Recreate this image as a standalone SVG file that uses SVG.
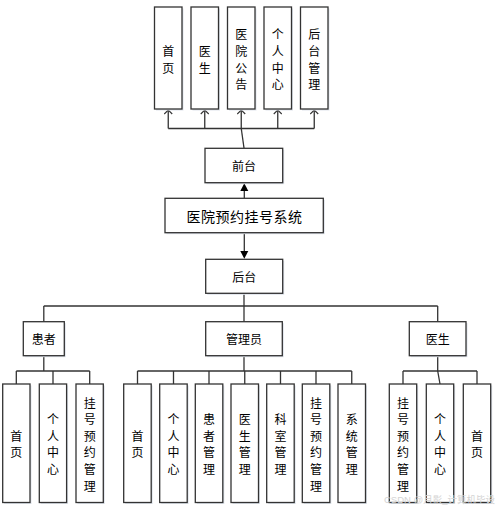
<svg xmlns="http://www.w3.org/2000/svg" width="500" height="511" viewBox="0 0 500 511">
<defs>
<style>
.bx{fill:#fff;stroke:#333;stroke-width:1.3}
.sh{fill:#dfe4ec}
.ln{fill:none;stroke:#333;stroke-width:1.3}
.t{font-family:"Noto Sans CJK SC","Noto Sans",sans-serif;font-size:12px;fill:#000;text-anchor:middle;dominant-baseline:central}
.tl{font-size:14px;letter-spacing:0.5px}
.wm{font-family:"Liberation Sans","Noto Sans CJK SC",sans-serif;font-size:9.5px;fill:#d4d4d4;text-anchor:end}
</style>
</defs>
<rect width="500" height="511" fill="#fff"/>

<g id="connectors">
<path class="ln" d="M244,148 L241.25,128.5"/>
<path class="ln" d="M168.25,128.5 L314.25,128.5"/>
<path class="ln" d="M168.25,128.5 V110"/>
<path class="ln" d="M204.75,128.5 V110"/>
<path class="ln" d="M241.25,128.5 V110"/>
<path class="ln" d="M277.75,128.5 V110"/>
<path class="ln" d="M314.25,128.5 V110"/>
<path d="M164.25,114 L168.25,110 L172.25,114 M200.75,114 L204.75,110 L208.75,114 M237.25,114 L241.25,110 L245.25,114 M273.75,114 L277.75,110 L281.75,114 M310.25,114 L314.25,110 L318.25,114" fill="none" stroke="#333" stroke-width="1.1"/>
<path class="ln" d="M244.3,198.3 V190"/>
<path d="M240.3,191 L244.3,183.2 L248.3,191 Z" fill="#000"/>
<path class="ln" d="M244.3,232.7 V251"/>
<path d="M240.3,251 L244.3,258.8 L248.3,251 Z" fill="#000"/>
<path class="ln" d="M244,293.3 V306"/>
<path class="ln" d="M43.8,306 H437.7"/>
<path class="ln" d="M43.8,306 V321.7"/>
<path class="ln" d="M244,306 V321.7"/>
<path class="ln" d="M437.7,306 V321.7"/>
<path class="ln" d="M43.8,355.7 V371"/>
<path class="ln" d="M16.3,371 H89.7"/>
<path class="ln" d="M16.3,371 V384 M53,371 V384 M89.7,371 V384"/>
<path class="ln" d="M244,355.7 V371"/>
<path class="ln" d="M137.5,371 H351.75"/>
<path class="ln" d="M137.5,371 V384 M173.5,371 V384 M209,371 V384 M244.75,371 V384 M280.5,371 V384 M316,371 V384 M351.75,371 V384"/>
<path class="ln" d="M437.7,355.7 V371"/>
<path class="ln" d="M403,371 H477"/>
<path class="ln" d="M403,371 V384 M437.7,371 L440,384 M477,371 V384"/>
</g>

<g id="f-home"><rect class="sh" x="156" y="8.5" width="27.5" height="102"/><rect class="bx" x="154.5" y="7" width="27.5" height="102"/><text class="t" x="168.25" y="50">首</text><text class="t" x="168.25" y="67">页</text></g>
<g id="f-doctor"><rect class="sh" x="192.5" y="8.5" width="27.5" height="102"/><rect class="bx" x="191" y="7" width="27.5" height="102"/><text class="t" x="204.75" y="50">医</text><text class="t" x="204.75" y="67">生</text></g>
<g id="f-notice"><rect class="sh" x="229" y="8.5" width="27.5" height="102"/><rect class="bx" x="227.5" y="7" width="27.5" height="102"/><text class="t" x="241.25" y="33">医</text><text class="t" x="241.25" y="50">院</text><text class="t" x="241.25" y="67">公</text><text class="t" x="241.25" y="83.5">告</text></g>
<g id="f-user"><rect class="sh" x="265.5" y="8.5" width="27.5" height="102"/><rect class="bx" x="264" y="7" width="27.5" height="102"/><text class="t" x="277.75" y="33">个</text><text class="t" x="277.75" y="50">人</text><text class="t" x="277.75" y="67">中</text><text class="t" x="277.75" y="83.5">心</text></g>
<g id="f-admin"><rect class="sh" x="302" y="8.5" width="27.5" height="102"/><rect class="bx" x="300.5" y="7" width="27.5" height="102"/><text class="t" x="314.25" y="33">后</text><text class="t" x="314.25" y="50">台</text><text class="t" x="314.25" y="67">管</text><text class="t" x="314.25" y="83.5">理</text></g>

<g id="frontend"><rect class="sh" x="206.5" y="149.8" width="77.7" height="34.4"/><rect class="bx" x="205" y="148.3" width="77.7" height="34.4"/><text class="t" x="244" y="165.5">前台</text></g>
<g id="system"><rect class="sh" x="166.5" y="199.8" width="158.3" height="34.4"/><rect class="bx" x="165" y="198.3" width="158.3" height="34.4"/><text class="t tl" x="244.5" y="215.5">医院预约挂号系统</text></g>
<g id="backend"><rect class="sh" x="207.2" y="260.8" width="77" height="34"/><rect class="bx" x="205.7" y="259.3" width="77" height="34"/><text class="t" x="244.2" y="276.3">后台</text></g>

<g id="patient"><rect class="sh" x="24.8" y="323.2" width="41" height="34"/><rect class="bx" x="23.3" y="321.7" width="41" height="34"/><text class="t" x="43.8" y="338.7">患者</text></g>
<g id="admin"><rect class="sh" x="207.2" y="323.2" width="76.6" height="34"/><rect class="bx" x="205.7" y="321.7" width="76.6" height="34"/><text class="t" x="244" y="338.7">管理员</text></g>
<g id="doctor"><rect class="sh" x="410.8" y="323.2" width="56.7" height="34"/><rect class="bx" x="409.3" y="321.7" width="56.7" height="34"/><text class="t" x="437.7" y="338.7">医生</text></g>

<g id="p-home"><rect class="sh" x="4.2" y="385.5" width="27.3" height="118.5"/><rect class="bx" x="2.7" y="384" width="27.3" height="118.5"/><text class="t" x="16.3" y="435">首</text><text class="t" x="16.3" y="451.5">页</text></g>
<g id="p-user"><rect class="sh" x="40.8" y="385.5" width="27.3" height="118.5"/><rect class="bx" x="39.3" y="384" width="27.3" height="118.5"/><text class="t" x="53" y="418">个</text><text class="t" x="53" y="435">人</text><text class="t" x="53" y="451.5">中</text><text class="t" x="53" y="468">心</text></g>
<g id="p-reg"><rect class="sh" x="77.5" y="385.5" width="27.3" height="118.5"/><rect class="bx" x="76" y="384" width="27.3" height="118.5"/><text class="t" x="89.7" y="402">挂</text><text class="t" x="89.7" y="418.6">号</text><text class="t" x="89.7" y="435.2">预</text><text class="t" x="89.7" y="451.8">约</text><text class="t" x="89.7" y="468.4">管</text><text class="t" x="89.7" y="485">理</text></g>

<g id="a-home"><rect class="sh" x="125.2" y="385.5" width="27.5" height="118.5"/><rect class="bx" x="123.7" y="384" width="27.5" height="118.5"/><text class="t" x="137.5" y="435">首</text><text class="t" x="137.5" y="451.5">页</text></g>
<g id="a-user"><rect class="sh" x="161.2" y="385.5" width="27.5" height="118.5"/><rect class="bx" x="159.7" y="384" width="27.5" height="118.5"/><text class="t" x="173.5" y="418">个</text><text class="t" x="173.5" y="435">人</text><text class="t" x="173.5" y="451.5">中</text><text class="t" x="173.5" y="468">心</text></g>
<g id="a-patient"><rect class="sh" x="196.8" y="385.5" width="27.5" height="118.5"/><rect class="bx" x="195.3" y="384" width="27.5" height="118.5"/><text class="t" x="209" y="418">患</text><text class="t" x="209" y="435">者</text><text class="t" x="209" y="451.5">管</text><text class="t" x="209" y="468">理</text></g>
<g id="a-doctor"><rect class="sh" x="232.5" y="385.5" width="27.5" height="118.5"/><rect class="bx" x="231" y="384" width="27.5" height="118.5"/><text class="t" x="244.75" y="418">医</text><text class="t" x="244.75" y="435">生</text><text class="t" x="244.75" y="451.5">管</text><text class="t" x="244.75" y="468">理</text></g>
<g id="a-dept"><rect class="sh" x="268.2" y="385.5" width="27.5" height="118.5"/><rect class="bx" x="266.7" y="384" width="27.5" height="118.5"/><text class="t" x="280.5" y="418">科</text><text class="t" x="280.5" y="435">室</text><text class="t" x="280.5" y="451.5">管</text><text class="t" x="280.5" y="468">理</text></g>
<g id="a-reg"><rect class="sh" x="303.8" y="385.5" width="27.5" height="118.5"/><rect class="bx" x="302.3" y="384" width="27.5" height="118.5"/><text class="t" x="316" y="402">挂</text><text class="t" x="316" y="418.6">号</text><text class="t" x="316" y="435.2">预</text><text class="t" x="316" y="451.8">约</text><text class="t" x="316" y="468.4">管</text><text class="t" x="316" y="485">理</text></g>
<g id="a-sys"><rect class="sh" x="339.5" y="385.5" width="27.5" height="118.5"/><rect class="bx" x="338" y="384" width="27.5" height="118.5"/><text class="t" x="351.75" y="418">系</text><text class="t" x="351.75" y="435">统</text><text class="t" x="351.75" y="451.5">管</text><text class="t" x="351.75" y="468">理</text></g>

<g id="d-reg"><rect class="sh" x="390.8" y="385.5" width="27.4" height="118.5"/><rect class="bx" x="389.3" y="384" width="27.4" height="118.5"/><text class="t" x="403" y="402">挂</text><text class="t" x="403" y="418.6">号</text><text class="t" x="403" y="435.2">预</text><text class="t" x="403" y="451.8">约</text><text class="t" x="403" y="468.4">管</text><text class="t" x="403" y="485">理</text></g>
<g id="d-user"><rect class="sh" x="427.8" y="385.5" width="27.4" height="118.5"/><rect class="bx" x="426.3" y="384" width="27.4" height="118.5"/><text class="t" x="440" y="418">个</text><text class="t" x="440" y="435">人</text><text class="t" x="440" y="451.5">中</text><text class="t" x="440" y="468">心</text></g>
<g id="d-home"><rect class="sh" x="464.8" y="385.5" width="27.4" height="118.5"/><rect class="bx" x="463.3" y="384" width="27.4" height="118.5"/><text class="t" x="477" y="435">首</text><text class="t" x="477" y="451.5">页</text></g>

<text class="wm" x="495" y="503">CSDN @月影_计算机毕设</text>
</svg>
